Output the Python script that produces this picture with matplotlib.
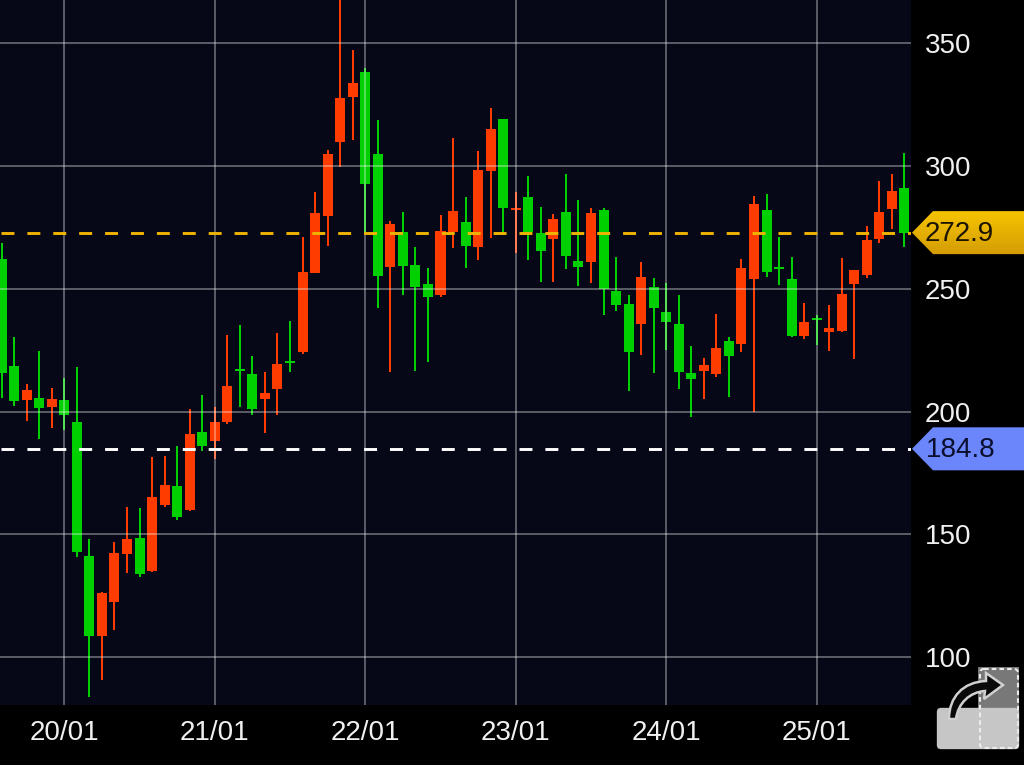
import numpy as np
import matplotlib
matplotlib.use('Agg')
import matplotlib.pyplot as plt
from matplotlib.patches import FancyBboxPatch, PathPatch, Polygon, Rectangle
from matplotlib.path import Path

plt.rcParams['font.family'] = ['Liberation Sans', 'DejaVu Sans']

# candles start 5 bars before the 20/01 gridline
candle_idx = np.arange(-5, 68)

highs = [268.7, 230.4, 211.2, 224.7, 209.6, 213.7, 218.2, 148.1, 126.5, 146.8, 161.1, 160.7, 181.5,
         181.9, 186.0, 201.0, 206.7, 201.9, 231.2, 235.3, 222.6, 216.1, 232.0, 236.9, 271.1, 289.5,
         306.6, 372.0, 347.3, 340.0, 318.8, 277.6, 281.3, 267.0, 258.5, 280.1, 311.5, 287.4, 306.2,
         323.7, 319.2, 289.5, 296.0, 283.3, 280.5, 296.8, 286.2, 282.9, 282.9, 263.0, 247.5, 260.9,
         254.4, 252.4, 247.5, 226.7, 221.8, 239.7, 230.4, 262.2, 287.8, 288.6, 271.1, 263.0, 244.2,
         239.3, 243.4, 262.6, 257.7, 275.6, 293.9, 296.8, 305.4]
lows = [205.5, 202.3, 196.1, 188.8, 193.3, 192.5, 140.7, 83.7, 90.6, 111.0, 134.2, 132.6, 134.6,
        161.1, 155.8, 159.5, 183.9, 180.7, 194.9, 201.9, 198.6, 191.3, 198.6, 216.1, 223.4, 256.4,
        267.5, 299.6, 310.7, 272.8, 242.2, 216.1, 247.5, 216.5, 220.2, 246.7, 266.6, 258.5, 261.8,
        270.7, 271.9, 264.6, 261.8, 252.8, 252.8, 258.1, 251.2, 252.4, 239.3, 241.0, 208.4, 223.0,
        215.7, 225.1, 209.2, 197.8, 205.1, 214.1, 205.9, 224.3, 199.8, 254.8, 251.6, 230.4, 229.6,
        227.1, 224.7, 232.4, 221.4, 254.4, 268.7, 274.4, 267.0]
opens = [262.2, 218.5, 204.7, 205.5, 201.9, 204.7, 195.7, 141.1, 108.5, 122.4, 141.9, 148.5, 135.0,
         161.9, 169.7, 159.9, 191.7, 188.0, 195.7, 216.7, 215.3, 205.1, 209.2, 219.8, 224.3, 256.4,
         279.7, 309.8, 328.2, 338.4, 304.9, 258.9, 273.2, 259.7, 252.0, 247.5, 273.2, 277.2, 267.0,
         298.0, 319.2, 282.1, 287.4, 272.8, 270.3, 281.3, 261.3, 260.9, 282.1, 249.1, 243.8, 235.7,
         250.7, 240.6, 235.7, 215.7, 216.5, 215.3, 228.7, 227.5, 254.0, 282.1, 258.1, 254.0, 230.8,
         237.3, 232.4, 232.8, 252.0, 255.6, 270.3, 282.5, 291.1]
closes = [215.7, 204.3, 208.8, 201.4, 205.1, 198.6, 142.8, 108.5, 126.1, 142.4, 148.1, 133.8, 165.2,
          170.1, 157.0, 190.8, 186.0, 195.7, 210.4, 216.7, 201.0, 207.6, 219.4, 219.8, 256.9, 280.9,
          304.9, 327.8, 333.9, 292.7, 255.2, 276.4, 259.3, 250.7, 246.7, 273.6, 281.7, 267.5, 298.4,
          315.1, 282.9, 282.9, 273.2, 265.4, 278.5, 263.4, 258.9, 280.9, 249.9, 243.4, 224.3, 254.8,
          242.2, 236.5, 216.1, 213.3, 219.0, 225.9, 222.6, 258.5, 284.6, 256.9, 258.1, 230.8, 236.5,
          237.3, 234.0, 247.9, 257.7, 269.9, 281.3, 289.9, 272.9]

day_labels = ['20/01', '21/01', '22/01', '23/01', '24/01', '25/01']
day_idx = [0, 12, 24, 36, 48, 60]
price_ticks = [100, 150, 200, 250, 300, 350]
last_price = 272.9
ref_price = 184.8

BG = '#060818'
UP = '#ff3c00'
DOWN = '#00d000'
GOLD = '#f0b400'

fig = plt.figure(figsize=(10.24, 7.65), dpi=100, facecolor='black')
ax = fig.add_axes([0, 1 - 705 / 765, 911 / 1024, 705 / 765], facecolor=BG)

highs, lows = np.array(highs), np.array(lows)
opens, closes = np.array(opens), np.array(closes)
colors = [UP if c > o else DOWN for o, c in zip(opens, closes)]

ax.vlines(candle_idx, lows, highs, colors=colors, linewidth=1.45, zorder=2)
# dojis still get a thin body
body_h = np.maximum(np.abs(closes - opens), 0.8)
ax.bar(candle_idx, body_h, bottom=np.minimum(opens, closes), width=0.8, color=colors, linewidth=0, zorder=2)

ax.set_xlim(-5.128, 67.52)
ax.set_ylim(80.4, 367.7)
ax.set_xticks(day_idx)
ax.set_xticklabels(day_labels)
ax.set_yticks(price_ticks)
ax.yaxis.tick_right()
ax.tick_params(axis='x', length=0, pad=11, labelsize=20, labelcolor='#f0f0f0')
ax.tick_params(axis='y', length=0, pad=10, labelsize=20, labelcolor='#f0f0f0')
ax.set_axisbelow(False)
ax.grid(True, color='white', alpha=0.34, linewidth=1.4)
for s in ax.spines.values():
    s.set_visible(False)

dash = (8.54, (4.44, 4.44))
ax.axhline(last_price, color=GOLD, linewidth=2.1, linestyle=dash, zorder=3)
ax.axhline(ref_price, color='white', linewidth=2.1, linestyle=dash, zorder=3)

# overlay in pixels for the price tags and the share icon
ov = fig.add_axes([0, 0, 1, 1])
ov.set_xlim(0, 1024)
ov.set_ylim(765, 0)
ov.axis('off')


def price_to_px(price):
    return 705 * (367.7 - price) / (367.7 - 80.4)


def tag(price, half_h):
    y = price_to_px(price)
    return [(912, y), (933, y - half_h), (1024, y - half_h), (1024, y + half_h), (933, y + half_h)]


gold_y = price_to_px(last_price)
gold_tag = Polygon(tag(last_price, 21.5), closed=True, facecolor='none', edgecolor='none')
ov.add_patch(gold_tag)
grad = np.linspace(0, 1, 64).reshape(-1, 1)
cmap = matplotlib.colors.LinearSegmentedColormap.from_list('tag', ['#f7c400', '#d39c06'])
im = ov.imshow(grad, extent=(912, 1024, gold_y + 22, gold_y - 22), cmap=cmap, aspect='auto', zorder=2)
im.set_clip_path(gold_tag)
ov.set_xlim(0, 1024)
ov.set_ylim(765, 0)
ov.add_patch(Polygon(tag(ref_price, 21.5), closed=True, facecolor='#6b85fb', edgecolor='none', zorder=2))
ov.text(925, gold_y + 1, '272.9', fontsize=20, color='#1a1400', va='center', ha='left', zorder=3)
ov.text(926, price_to_px(ref_price) + 1, '184.8', fontsize=20, color='#0a0f2e', va='center', ha='left', zorder=3)

# share icon
ov.add_patch(Rectangle((978, 667), 41, 41, facecolor='#787878', edgecolor='none', zorder=2))
ov.add_patch(FancyBboxPatch((941, 712), 74, 33, boxstyle='round,pad=0,rounding_size=0.1', facecolor='#c6c6c6',
                            edgecolor='#c6c6c6', linewidth=6, zorder=2))
ov.add_patch(FancyBboxPatch((980, 669), 38, 79, boxstyle='round,pad=0,rounding_size=4', facecolor='none',
                            edgecolor='#ececec', linewidth=1.5, linestyle=(0, (2.2, 1.5)), zorder=3))
verts = [(949, 719), (949, 697), (963, 682), (986, 681), (986, 673), (1003, 685), (984, 699), (985, 691),
         (970, 692), (958, 703), (956, 719), (949, 719)]
codes = [Path.MOVETO, Path.CURVE4, Path.CURVE4, Path.CURVE4, Path.LINETO, Path.LINETO, Path.LINETO, Path.LINETO,
         Path.CURVE4, Path.CURVE4, Path.CURVE4, Path.CLOSEPOLY]
ov.add_patch(PathPatch(Path(verts, codes), facecolor='#0a0a0a', edgecolor='#d0d0d0', linewidth=1.8, zorder=4))

fig.savefig('out.png', dpi=100, facecolor='black')
